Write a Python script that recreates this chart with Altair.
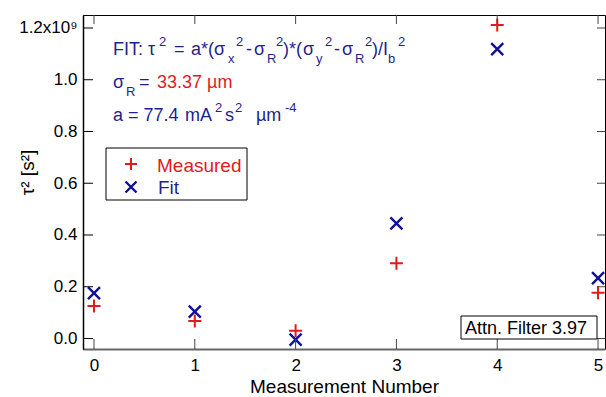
import altair as alt
import pandas as pd

# ---------------- data ----------------
measurement = [0, 1, 2, 3, 4, 5]
measured_tau2 = [0.126e9, 0.068e9, 0.030e9, 0.291e9, 1.212e9, 0.177e9]
fit_tau2 = [0.175e9, 0.104e9, -0.004e9, 0.445e9, 1.118e9, 0.233e9]
x_ticks = [0, 1, 2, 3, 4, 5]
y_ticks = [0.0, 0.2e9, 0.4e9, 0.6e9, 0.8e9, 1.0e9, 1.2e9]

# ---------------- style ----------------
FONT = "Liberation Sans"
BLUE_TXT = "#1f1f8f"
BLUE = "#10109a"
RED = "#e31a1c"
W, H = 522, 334
PL, PT = 83, 15

PLUS = "M-1,0H1M0,-1V1"
XSHAPE = "M-1,-1L1,1M-1,1L1,-1"

xscale = alt.Scale(domain=[-0.109, 5.069], nice=False, zero=False)
yscale = alt.Scale(domain=[-0.0406e9, 1.2502e9], nice=False, zero=False)

meas_df = pd.DataFrame({"n": measurement, "v": measured_tau2})
fit_df = pd.DataFrame({"n": measurement, "v": fit_tau2})
xt_df = pd.DataFrame({"n": x_ticks})
yt_df = pd.DataFrame({"v": y_ticks})

x_axis = alt.Axis(values=x_ticks, format="d", ticks=False, tickSize=0, grid=False,
                  labelFont=FONT, labelFontSize=17, labelColor="black",
                  labelBaseline="alphabetic", labelPadding=21, labelFlush=False,
                  domainColor="#666666", domainWidth=2,
                  title="Measurement Number", titleFont=FONT, titleFontSize=19,
                  titleFontWeight="normal", titleColor="black",
                  titleBaseline="alphabetic", titleY=43)
y_axis = alt.Axis(values=y_ticks,
                  labelExpr="datum.value > 1.1e9 ? '1.2x10\u2079' : format(datum.value/1e9, '.1f')",
                  ticks=False, tickSize=0, grid=False,
                  labelFont=FONT, labelFontSize=17, labelColor="black", labelPadding=6,
                  domainColor="black", domainWidth=1.5,
                  title="\u03c4\u00b2 [s\u00b2]", titleFont=FONT, titleFontSize=19,
                  titleFontWeight="normal", titleColor="black",
                  titleAngle=270, titleX=-50, titleY=157,
                  titleAlign="center", titleBaseline="alphabetic")

measured = alt.Chart(meas_df).mark_point(shape=PLUS, filled=False, strokeWidth=2,
                                         size=169, color=RED, opacity=1).encode(
    x=alt.X("n:Q", scale=xscale, axis=x_axis),
    y=alt.Y("v:Q", scale=yscale, axis=y_axis),
)
fit = alt.Chart(fit_df).mark_point(shape=XSHAPE, filled=False, strokeWidth=2.4,
                                   size=144, color=BLUE, opacity=1).encode(
    x=alt.X("n:Q", scale=xscale),
    y=alt.Y("v:Q", scale=yscale),
)

# inward ticks on all four sides
left_ticks = alt.Chart(yt_df).mark_rule(color="black", strokeWidth=1).encode(
    y=alt.Y("v:Q", scale=yscale), x=alt.value(0), x2=alt.value(10))
right_ticks = alt.Chart(yt_df).mark_rule(color="#444444", strokeWidth=1).encode(
    y=alt.Y("v:Q", scale=yscale), x=alt.value(W - 8), x2=alt.value(W))
bottom_ticks = alt.Chart(xt_df).mark_rule(color="#444444", strokeWidth=1).encode(
    x=alt.X("n:Q", scale=xscale), y=alt.value(H - 10), y2=alt.value(H))
top_ticks = alt.Chart(xt_df).mark_rule(color="#444444", strokeWidth=1).encode(
    x=alt.X("n:Q", scale=xscale), y=alt.value(0), y2=alt.value(9))

# ---------------- annotation text (rich text pieces) ----------------
L1, L2, L3 = 55 - PT, 88 - PT, 121 - PT
SUB, SUP = 8, -9
MAIN_FS, SMALL_FS = 18, 13


def piece(t, ax, base, kind="n", color=BLUE_TXT, fs=None):
    dy = {"n": 0, "sub": SUB, "sup": SUP}[kind]
    if fs is None:
        fs = MAIN_FS if kind == "n" else SMALL_FS
    return {"t": t, "px": ax - PL, "py": base + dy, "fs": fs, "c": color}


pieces = [
    piece("FIT: \u03c4", 113, L1), piece("2", 159, L1, "sup"),
    piece("=", 174, L1), piece("a*(\u03c3", 191, L1),
    piece("x", 228, L1, "sub"), piece("2", 236, L1, "sup"),
    piece("-", 246, L1), piece("\u03c3", 254, L1),
    piece("R", 267, L1, "sub"), piece("2", 276, L1, "sup"),
    piece(")*(", 283, L1), piece("\u03c3", 303, L1),
    piece("y", 316, L1, "sub"), piece("2", 325, L1, "sup"),
    piece("-", 334, L1), piece("\u03c3", 342, L1),
    piece("R", 355, L1, "sub"), piece("2", 365, L1, "sup"),
    piece(")/I", 372, L1), piece("b", 388, L1, "sub"), piece("2", 398, L1, "sup"),
    piece("\u03c3", 113, L2), piece("R", 126, L2, "sub"), piece("=", 139, L2),
    piece("33.37 \u00b5m", 157, L2, "n", RED),
    piece("a = 77.4", 113, L3), piece("mA", 185, L3), piece("2", 215, L3, "sup"),
    piece("s", 225, L3), piece("2", 235, L3, "sup"),
    piece("\u00b5m", 256, L3), piece("-4", 285, L3, "sup"),
    piece("Measured", 157, 172 - PT, "n", RED, 19),
    piece("Fit", 158, 194 - PT, "n", BLUE_TXT, 19),
]
pieces_df = pd.DataFrame(pieces)
pieces_df["fs"] = pieces_df["fs"].astype(float)

text_layer = alt.Chart(pieces_df).mark_text(font=FONT, align="left",
                                            baseline="alphabetic").encode(
    x=alt.X("px:Q", scale=None, axis=None),
    y=alt.Y("py:Q", scale=None, axis=None),
    text="t:N",
    size=alt.Size("fs:Q", scale=None, legend=None),
    color=alt.Color("c:N", scale=None, legend=None),
)

one = pd.DataFrame({"k": [0]})
legend_box = alt.Chart(one).mark_rect(fill="white", stroke="black", strokeWidth=1).encode(
    x=alt.value(106 - PL), x2=alt.value(247 - PL),
    y=alt.value(148 - PT), y2=alt.value(200 - PT))
legend_plus = alt.Chart(one).mark_point(shape=PLUS, filled=False, strokeWidth=2,
                                        size=144, color=RED, opacity=1).encode(
    x=alt.value(131 - PL), y=alt.value(164 - PT))
legend_x = alt.Chart(one).mark_point(shape=XSHAPE, filled=False, strokeWidth=2.4,
                                     size=121, color=BLUE, opacity=1).encode(
    x=alt.value(131 - PL), y=alt.value(187 - PT))

attn_box = alt.Chart(one).mark_rect(fill="white", stroke="black", strokeWidth=1).encode(
    x=alt.value(461 - PL), x2=alt.value(597 - PL),
    y=alt.value(316 - PT), y2=alt.value(339 - PT))
attn_text = alt.Chart(one).mark_text(font=FONT, fontSize=18, align="left",
                                     baseline="alphabetic", color="black",
                                     text="Attn. Filter 3.97").encode(
    x=alt.value(465 - PL), y=alt.value(334 - PT))

chart = alt.layer(
    measured, fit, left_ticks, right_ticks, bottom_ticks, top_ticks,
    legend_box, legend_plus, legend_x, attn_box, attn_text, text_layer,
).properties(
    width=W, height=H,
    padding={"left": PL, "top": PT, "right": 606 - PL - W, "bottom": 397 - PT - H},
    autosize=alt.AutoSizeParams(type="none"),
    background="white",
).configure_view(stroke="black", strokeWidth=1)

chart.save("out.html", embed_options={"renderer": "svg", "actions": False})
